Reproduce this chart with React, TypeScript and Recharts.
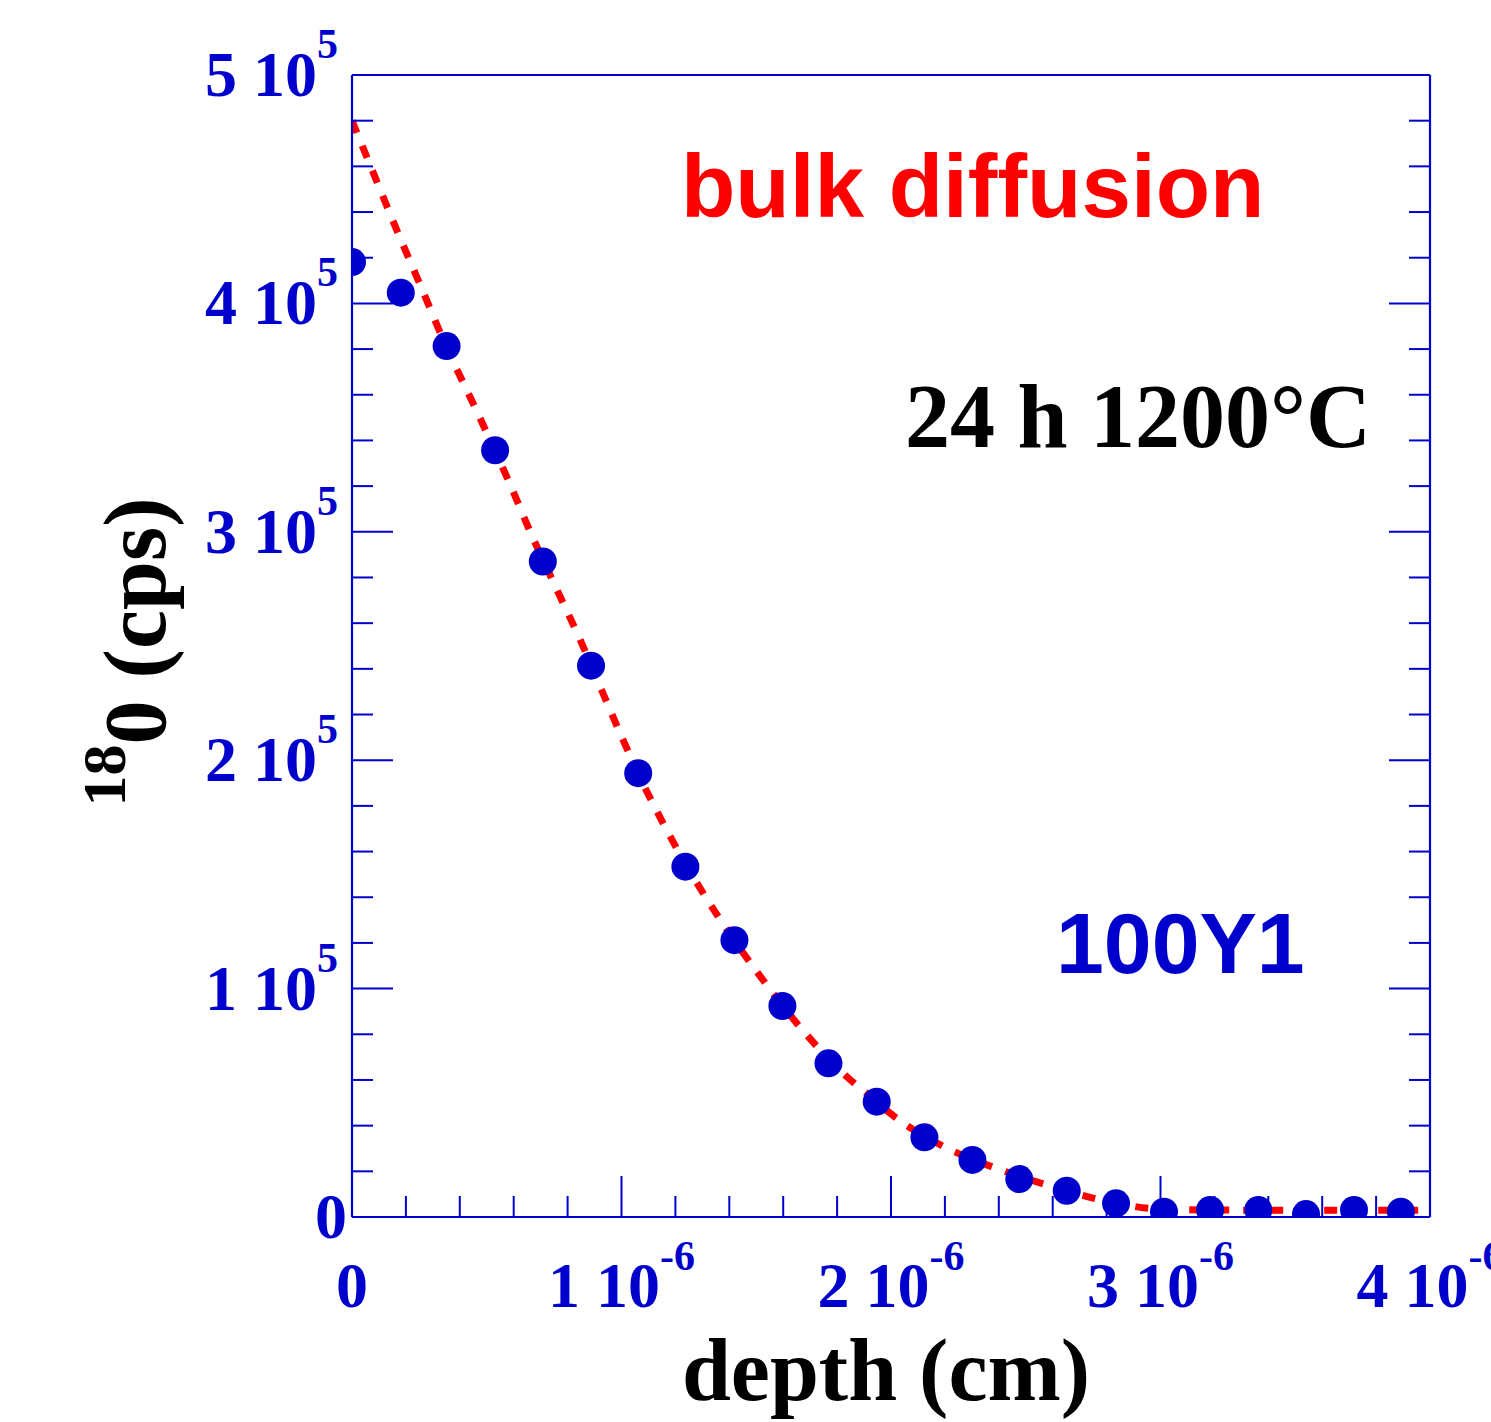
import React from 'react';
import { ComposedChart, Line, Scatter, XAxis, YAxis } from 'recharts';

// ---- data -------------------------------------------------------------
// depth in units of 1e-6 cm, 18O signal in counts per second
const depthE6 = [
  0, 0.181, 0.351, 0.531, 0.708, 0.887, 1.062, 1.237, 1.419, 1.597, 1.768, 1.947,
  2.124, 2.302, 2.476, 2.652, 2.835, 3.013, 3.184, 3.363, 3.54, 3.718, 3.892,
];
const countsCps = [
  418100, 404700, 381300, 335700, 287000, 241400, 194300, 153400, 121200, 92400, 67300, 50500,
  34900, 25000, 16600, 11500, 6000, 2300, 3100, 3100, 1300, 3100, 2300,
];

// bulk diffusion fit (dashed red curve)
const fitDepthE6 = [
  0, 0.09, 0.17, 0.25, 0.35, 0.456, 0.586, 0.668, 0.761, 0.85, 0.931, 1.009, 1.061, 1.154,
  1.206, 1.321, 1.377, 1.506, 1.662, 1.829, 1.948, 1.996, 2.2, 2.386, 2.579, 2.764, 3.0, 3.3,
  3.6, 4.0,
];
const fitCps = [
  480000, 454000, 431000, 409000, 381000, 354600, 320900, 298200, 274500, 251800, 229400,
  208000, 194400, 172500, 161100, 138400, 128300, 106800, 83200, 62200, 50400, 45500, 30600,
  21500, 14000, 7900, 3500, 3000, 3000, 3000,
];

// axis ticks (major + minor)
const xTicks = [
  0, 0.2, 0.4, 0.6, 0.8, 1, 1.2, 1.4, 1.6, 1.8, 2, 2.2, 2.4, 2.6, 2.8, 3, 3.2, 3.4, 3.6, 3.8, 4,
];
const yTicks = [
  0, 20000, 40000, 60000, 80000, 100000, 120000, 140000, 160000, 180000, 200000, 220000,
  240000, 260000, 280000, 300000, 320000, 340000, 360000, 380000, 400000, 420000, 440000,
  460000, 480000, 500000,
];

const xTitle = 'depth (cm)';
const yTitleSup = '18';
const yTitleMain = '0 (cps)';
const noteModel = 'bulk diffusion';
const noteCond = '24 h 1200°C';
const noteSample = '100Y1';

// ---- styling -----------------------------------------------------------
const BLUE = '#0000cc';
const RED = '#ff0000';
const SERIF = '"Liberation Serif", "Times New Roman", Times, serif';
const SANS = '"Liberation Sans", Arial, Helvetica, sans-serif';

const points = depthE6.map((x, i) => ({ x, y: countsCps[i] }));
const fit = fitDepthE6.map((x, i) => ({ x, y: fitCps[i] }));

const isMajorX = (v: number) => Math.abs(v - Math.round(v)) < 1e-6;
const isMajorY = (v: number) => v % 100000 === 0;
const MAJOR = 41;
const MINOR = 21;

function BottomTick(props: any) {
  const { x, y, payload } = props;
  const v = payload.value as number;
  const major = isMajorX(v);
  return (
    <g>
      <line x1={x} y1={y} x2={x} y2={y - (major ? MAJOR : MINOR)} stroke={BLUE} strokeWidth={2} />
      {major && (
        <text x={x} y={y + 90} textAnchor="middle" fill={BLUE} fontFamily={SERIF} fontWeight="bold" fontSize={64}>
          {v === 0 ? (
            '0'
          ) : (
            <>
              <tspan>{`${Math.round(v)} 10`}</tspan>
              <tspan dy={-37} fontSize={42}>-6</tspan>
            </>
          )}
        </text>
      )}
    </g>
  );
}

function TopTick(props: any) {
  const { x, y, payload } = props;
  const major = isMajorX(payload.value);
  return <line x1={x} y1={y} x2={x} y2={y + (major ? MAJOR : MINOR)} stroke={BLUE} strokeWidth={2} />;
}

function LeftTick(props: any) {
  const { x, y, payload } = props;
  const v = payload.value as number;
  const major = isMajorY(v);
  return (
    <g>
      <line x1={x} y1={y} x2={x + (major ? MAJOR : MINOR)} y2={y} stroke={BLUE} strokeWidth={2} />
      {major && (
        <text
          x={v === 0 ? x - 5 : x - 14}
          y={y + 21}
          textAnchor="end"
          fill={BLUE}
          fontFamily={SERIF}
          fontWeight="bold"
          fontSize={64}
        >
          {v === 0 ? (
            '0'
          ) : (
            <>
              <tspan>{`${v / 100000} 10`}</tspan>
              <tspan dy={-38} fontSize={42}>5</tspan>
            </>
          )}
        </text>
      )}
    </g>
  );
}

function RightTick(props: any) {
  const { x, y, payload } = props;
  const major = isMajorY(payload.value);
  return <line x1={x} y1={y} x2={x - (major ? MAJOR : MINOR)} y2={y} stroke={BLUE} strokeWidth={2} />;
}

const Dot = (props: any) => <circle cx={props.cx} cy={props.cy} r={14} fill={BLUE} />;

const axisLine = { stroke: BLUE, strokeWidth: 2.2 };

export default function App() {
  return (
    <div style={{ position: 'absolute', left: 0, top: 0, width: 1491, height: 1422, background: '#fff' }}>
      <ComposedChart
        width={1491}
        height={1422}
        margin={{ top: 65, right: 51, bottom: 195, left: 342 }}
      >
        <XAxis
          xAxisId="b"
          orientation="bottom"
          type="number"
          dataKey="x"
          domain={[0, 4]}
          ticks={xTicks}
          interval={0}
          height={10}
          tickSize={0}
          tickMargin={0}
          tickLine={false}
          axisLine={axisLine}
          tick={<BottomTick />}
          allowDataOverflow
        />
        <XAxis
          xAxisId="t"
          orientation="top"
          type="number"
          domain={[0, 4]}
          ticks={xTicks}
          interval={0}
          height={10}
          tickSize={0}
          tickMargin={0}
          tickLine={false}
          axisLine={axisLine}
          tick={<TopTick />}
          allowDataOverflow
        />
        <YAxis
          yAxisId="l"
          orientation="left"
          type="number"
          domain={[0, 500000]}
          ticks={yTicks}
          interval={0}
          width={10}
          tickSize={0}
          tickMargin={0}
          tickLine={false}
          axisLine={axisLine}
          tick={<LeftTick />}
          allowDataOverflow
        />
        <YAxis
          yAxisId="r"
          orientation="right"
          type="number"
          domain={[0, 500000]}
          ticks={yTicks}
          interval={0}
          width={10}
          tickSize={0}
          tickMargin={0}
          tickLine={false}
          axisLine={axisLine}
          tick={<RightTick />}
          allowDataOverflow
        />
        <Line
          xAxisId="b"
          yAxisId="l"
          data={fit}
          dataKey="y"
          type="monotone"
          stroke={RED}
          strokeWidth={7}
          strokeDasharray="13 14"
          dot={false}
          activeDot={false}
          isAnimationActive={false}
        />
        <Scatter
          xAxisId="b"
          yAxisId="l"
          data={points}
          dataKey="y"
          shape={<Dot />}
          isAnimationActive={false}
        />
        <text x={681} y={217} fill={RED} fontFamily={SANS} fontWeight="bold" fontSize={89}>
          {noteModel}
        </text>
        <text x={905} y={447} fill="#000" fontFamily={SERIF} fontWeight="bold" fontSize={90}>
          {noteCond}
        </text>
        <text x={1056} y={973} fill={BLUE} fontFamily={SANS} fontWeight="bold" fontSize={86}>
          {noteSample}
        </text>
        <text x={886} y={1400} textAnchor="middle" fill="#000" fontFamily={SERIF} fontWeight="bold" fontSize={88}>
          {xTitle}
        </text>
        <text
          transform="translate(165,652) rotate(-90)"
          textAnchor="middle"
          fill="#000"
          fontFamily={SERIF}
          fontWeight="bold"
          fontSize={88}
        >
          <tspan fontSize={62} dy={-40}>{yTitleSup}</tspan>
          <tspan dy={40}>{yTitleMain}</tspan>
        </text>
      </ComposedChart>
    </div>
  );
}
